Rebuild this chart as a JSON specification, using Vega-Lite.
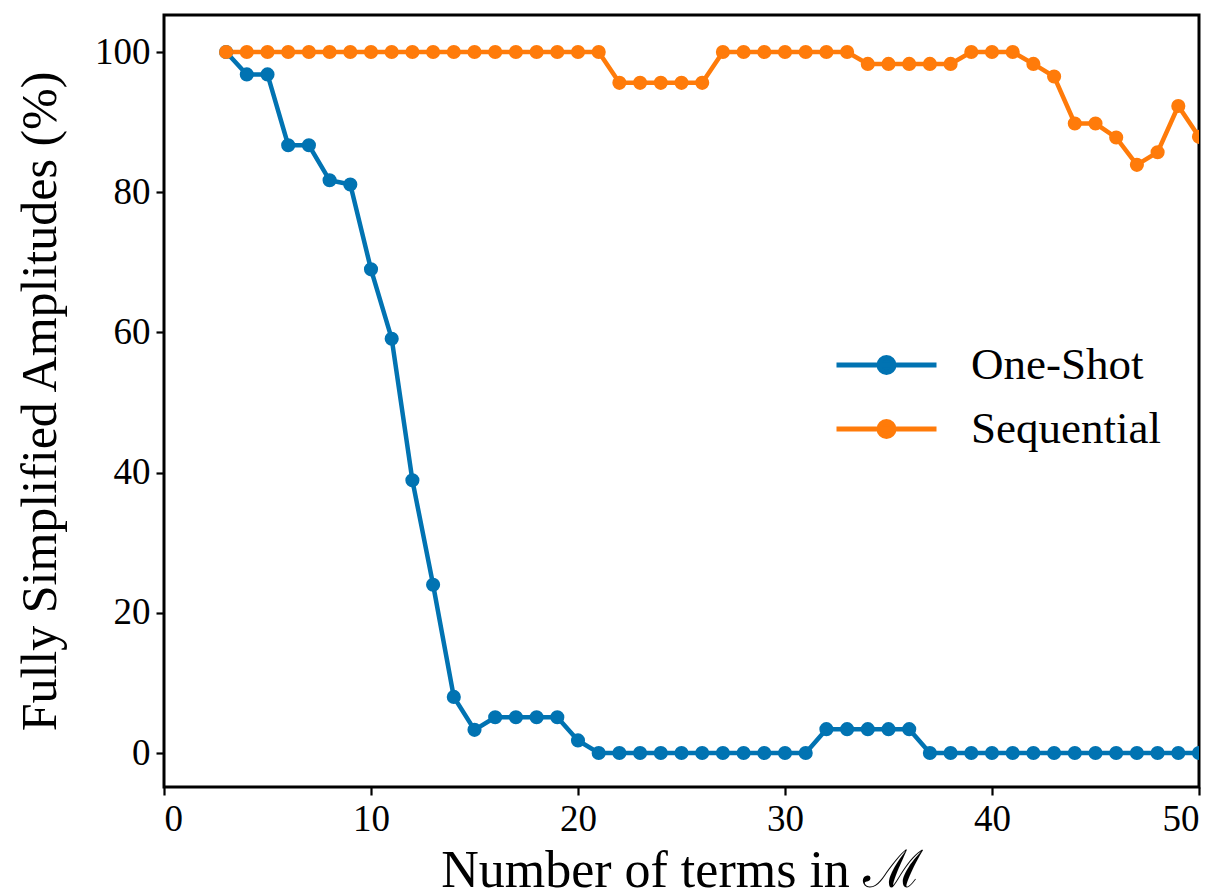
{
  "$schema": "https://vega.github.io/schema/vega-lite/v6.json",
  "autosize": {"type": "none"},
  "padding": {"left": 164, "top": 15, "right": 26, "bottom": 109},
  "width": 1035,
  "height": 772,
  "background": "white",
  "config": {
    "font": "Liberation Serif",
    "view": {"stroke": "black", "strokeWidth": 3},
    "axis": {"grid": false, "domain": false, "tickColor": "black", "tickWidth": 2.2, "tickSize": 8, "labelColor": "black", "titleColor": "black", "labelFont": "Liberation Serif", "titleFont": "Liberation Serif", "labelFontSize": 37, "titleFontWeight": "normal", "labelPadding": 6}
  },
  "data": {"values": [
    {"n": 3, "s": "One-Shot", "p": 100},
    {"n": 4, "s": "One-Shot", "p": 96.8},
    {"n": 5, "s": "One-Shot", "p": 96.8},
    {"n": 6, "s": "One-Shot", "p": 86.7},
    {"n": 7, "s": "One-Shot", "p": 86.7},
    {"n": 8, "s": "One-Shot", "p": 81.7},
    {"n": 9, "s": "One-Shot", "p": 81.1},
    {"n": 10, "s": "One-Shot", "p": 69.0},
    {"n": 11, "s": "One-Shot", "p": 59.1},
    {"n": 12, "s": "One-Shot", "p": 38.9},
    {"n": 13, "s": "One-Shot", "p": 24.0},
    {"n": 14, "s": "One-Shot", "p": 8.0},
    {"n": 15, "s": "One-Shot", "p": 3.3},
    {"n": 16, "s": "One-Shot", "p": 5.1},
    {"n": 17, "s": "One-Shot", "p": 5.1},
    {"n": 18, "s": "One-Shot", "p": 5.1},
    {"n": 19, "s": "One-Shot", "p": 5.1},
    {"n": 20, "s": "One-Shot", "p": 1.8},
    {"n": 21, "s": "One-Shot", "p": 0},
    {"n": 22, "s": "One-Shot", "p": 0},
    {"n": 23, "s": "One-Shot", "p": 0},
    {"n": 24, "s": "One-Shot", "p": 0},
    {"n": 25, "s": "One-Shot", "p": 0},
    {"n": 26, "s": "One-Shot", "p": 0},
    {"n": 27, "s": "One-Shot", "p": 0},
    {"n": 28, "s": "One-Shot", "p": 0},
    {"n": 29, "s": "One-Shot", "p": 0},
    {"n": 30, "s": "One-Shot", "p": 0},
    {"n": 31, "s": "One-Shot", "p": 0},
    {"n": 32, "s": "One-Shot", "p": 3.4},
    {"n": 33, "s": "One-Shot", "p": 3.4},
    {"n": 34, "s": "One-Shot", "p": 3.4},
    {"n": 35, "s": "One-Shot", "p": 3.4},
    {"n": 36, "s": "One-Shot", "p": 3.4},
    {"n": 37, "s": "One-Shot", "p": 0},
    {"n": 38, "s": "One-Shot", "p": 0},
    {"n": 39, "s": "One-Shot", "p": 0},
    {"n": 40, "s": "One-Shot", "p": 0},
    {"n": 41, "s": "One-Shot", "p": 0},
    {"n": 42, "s": "One-Shot", "p": 0},
    {"n": 43, "s": "One-Shot", "p": 0},
    {"n": 44, "s": "One-Shot", "p": 0},
    {"n": 45, "s": "One-Shot", "p": 0},
    {"n": 46, "s": "One-Shot", "p": 0},
    {"n": 47, "s": "One-Shot", "p": 0},
    {"n": 48, "s": "One-Shot", "p": 0},
    {"n": 49, "s": "One-Shot", "p": 0},
    {"n": 50, "s": "One-Shot", "p": 0},
    {"n": 3, "s": "Sequential", "p": 100},
    {"n": 4, "s": "Sequential", "p": 100},
    {"n": 5, "s": "Sequential", "p": 100},
    {"n": 6, "s": "Sequential", "p": 100},
    {"n": 7, "s": "Sequential", "p": 100},
    {"n": 8, "s": "Sequential", "p": 100},
    {"n": 9, "s": "Sequential", "p": 100},
    {"n": 10, "s": "Sequential", "p": 100},
    {"n": 11, "s": "Sequential", "p": 100},
    {"n": 12, "s": "Sequential", "p": 100},
    {"n": 13, "s": "Sequential", "p": 100},
    {"n": 14, "s": "Sequential", "p": 100},
    {"n": 15, "s": "Sequential", "p": 100},
    {"n": 16, "s": "Sequential", "p": 100},
    {"n": 17, "s": "Sequential", "p": 100},
    {"n": 18, "s": "Sequential", "p": 100},
    {"n": 19, "s": "Sequential", "p": 100},
    {"n": 20, "s": "Sequential", "p": 100},
    {"n": 21, "s": "Sequential", "p": 100},
    {"n": 22, "s": "Sequential", "p": 95.6},
    {"n": 23, "s": "Sequential", "p": 95.6},
    {"n": 24, "s": "Sequential", "p": 95.6},
    {"n": 25, "s": "Sequential", "p": 95.6},
    {"n": 26, "s": "Sequential", "p": 95.6},
    {"n": 27, "s": "Sequential", "p": 100},
    {"n": 28, "s": "Sequential", "p": 100},
    {"n": 29, "s": "Sequential", "p": 100},
    {"n": 30, "s": "Sequential", "p": 100},
    {"n": 31, "s": "Sequential", "p": 100},
    {"n": 32, "s": "Sequential", "p": 100},
    {"n": 33, "s": "Sequential", "p": 100},
    {"n": 34, "s": "Sequential", "p": 98.3},
    {"n": 35, "s": "Sequential", "p": 98.3},
    {"n": 36, "s": "Sequential", "p": 98.3},
    {"n": 37, "s": "Sequential", "p": 98.3},
    {"n": 38, "s": "Sequential", "p": 98.3},
    {"n": 39, "s": "Sequential", "p": 100},
    {"n": 40, "s": "Sequential", "p": 100},
    {"n": 41, "s": "Sequential", "p": 100},
    {"n": 42, "s": "Sequential", "p": 98.3},
    {"n": 43, "s": "Sequential", "p": 96.5},
    {"n": 44, "s": "Sequential", "p": 89.8},
    {"n": 45, "s": "Sequential", "p": 89.8},
    {"n": 46, "s": "Sequential", "p": 87.8},
    {"n": 47, "s": "Sequential", "p": 83.9},
    {"n": 48, "s": "Sequential", "p": 85.7},
    {"n": 49, "s": "Sequential", "p": 92.3},
    {"n": 50, "s": "Sequential", "p": 87.9}
  ]},
  "mark": {"type": "line", "strokeWidth": 4.5, "clip": true, "point": {"filled": true, "size": 200, "opacity": 1}},
  "encoding": {
    "x": {"field": "n", "type": "quantitative", "title": "Number of terms in ℳ",
      "scale": {"domain": [0, 50], "nice": false, "zero": false},
      "axis": {"values": [0, 10, 20, 30, 40, 50], "titlePadding": 8, "titleFontSize": 52}},
    "y": {"field": "p", "type": "quantitative", "title": "Fully Simplified Amplitudes (%)",
      "scale": {"domain": [-4.85, 105.28], "nice": false, "zero": false},
      "axis": {"values": [0, 20, 40, 60, 80, 100], "titlePadding": 29, "titleFontSize": 50}},
    "color": {"field": "s", "type": "nominal",
      "scale": {"domain": ["One-Shot", "Sequential"], "range": ["#0173b2", "#ff7b0a"]},
      "legend": {"title": null, "orient": "none", "legendX": 670, "legendY": 323,
        "symbolType": "M-1,0L1,0M0.15,0A0.15,0.15 0 1,1 -0.15,0A0.15,0.15 0 1,1 0.15,0",
        "symbolSize": 10000, "symbolStrokeWidth": 5, "labelFontSize": 45, "labelLimit": 500, "labelFont": "Liberation Serif", "labelColor": "black",
        "clipHeight": 54, "rowPadding": 10, "labelOffset": 32,
        "encode": {"symbols": {"update": {"fill": {"scale": "color", "field": "value"}, "fillOpacity": {"value": 1}, "opacity": {"value": 1}}}}}
    }
  }
}
